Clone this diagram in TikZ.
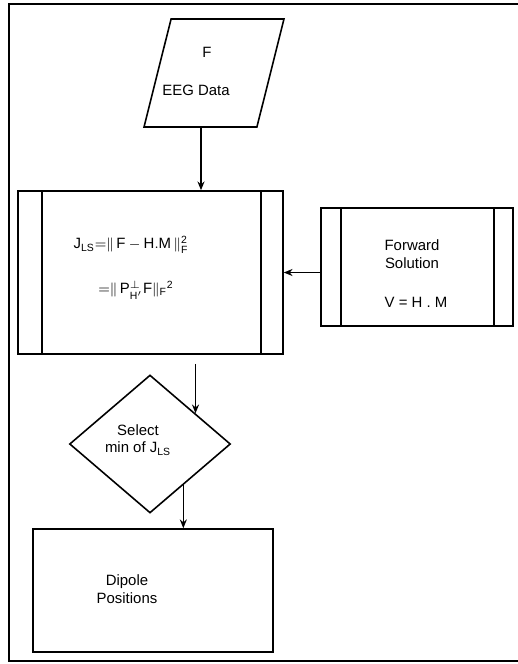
\documentclass[tikz,border=0pt]{standalone}
\usepackage{fontspec}
\setmainfont{Liberation Sans}
\usetikzlibrary{arrows.meta,calc,shapes.geometric}

\begin{document}
\begin{tikzpicture}[x=0.02cm,y=-0.02cm,line width=0.9pt,
    >={Stealth[length=5pt,width=4pt]},
    font=\fontsize{8.5}{10}\selectfont,
    box/.style={draw,inner sep=0pt},
    txt/.style={inner sep=0pt,align=center}]
	\useasboundingbox (0,0) rectangle (518,664);
	% outer frame, right side runs off the page
	\draw[line width=1.2pt] (530,4) -- (9,4) -- (9,661) -- (530,661);
	% input data
	\node[draw,inner sep=2pt,trapezium,trapezium left angle=72.5,trapezium right angle=107.5,
	      trapezium stretches=true,minimum width=2.8cm,minimum height=2.16cm] (inp) at (214,73) {};
	\node[txt] (inptop) at (207,52) {F};
	\node[txt] (inpbot) at (196,90) {EEG Data};
	% least squares cost
	\node[box,minimum width=5.3cm,minimum height=3.26cm] (ls) at (150.5,272.5) {};
	\draw ([xshift=0.5cm]ls.north west) -- ([xshift=0.5cm]ls.south west);
	\draw ([xshift=-0.46cm]ls.north east) -- ([xshift=-0.46cm]ls.south east);
	\node[txt] (lsa) at (131,245) {$\mathrm{J}_{\mathrm{LS}}\mathrm{=}\|\,\mathrm{F}-\mathrm{H.M}\,\|^{\mathrm{2}}_{\mathrm{F}}$};
	\node[txt] (lsb) at (136,290) {$\mathrm{=}\|\,\mathrm{P}^{\perp}_{\mathrm{H'}}\mathrm{F}\|_{\mathrm{F}}{}^{\mathrm{2}}$};
	% forward model
	\node[box,minimum width=3.84cm,minimum height=2.36cm] (fwd) at (417,267) {};
	\draw ([xshift=0.42cm]fwd.north west) -- ([xshift=0.42cm]fwd.south west);
	\draw ([xshift=-0.4cm]fwd.north east) -- ([xshift=-0.4cm]fwd.south east);
	\node[txt] (fwdtxt) at (412,254) {Forward\\Solution};
	\node[txt] (fwdeq) at (416,302) {V = H . M};
	% decision
	\node[draw,inner sep=2pt,diamond,minimum width=3.22cm,minimum height=2.76cm] (dia) at (150,444) {};
	\node[txt] (diatxt) at (138,440) {Select\\min of $\mathrm{J}_{\mathrm{LS}}$};
	% result
	\node[box,minimum width=4.8cm,minimum height=2.46cm] (out) at (153,590.5) {};
	\node[txt] (outtxt) at (127,589) {Dipole\\Positions};
	% arrows
	\draw[->] ($(inp.south)+(-13,0)$) -- ($(inp.south |- ls.north)+(-13,0)$);
	\draw[->] (fwd.west |- ls.east) -- (ls.east);
	\draw[->] ($(dia.34 |- ls.south)+(0,9)$) -- (dia.34);
	\draw[->] (dia.-51) -- (dia.-51 |- out.north);
\end{tikzpicture}
\end{document}
